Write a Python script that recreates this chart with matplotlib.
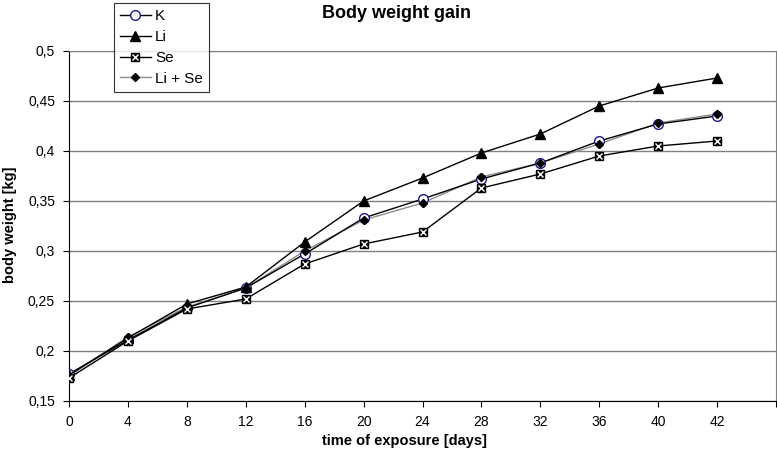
import matplotlib
matplotlib.use("Agg")
import matplotlib.pyplot as plt
from matplotlib.legend_handler import HandlerTuple

plt.rcParams['font.family'] = ['Liberation Sans', 'DejaVu Sans']

days = ["0", "4", "8", "12", "16", "20", "24", "28", "32", "36", "40", "42"]
K = [0.177, 0.211, 0.243, 0.263, 0.297, 0.333, 0.352, 0.372, 0.388, 0.410, 0.427, 0.435]
Li = [0.176, 0.213, 0.247, 0.264, 0.309, 0.350, 0.373, 0.398, 0.417, 0.445, 0.463, 0.473]
Se = [0.173, 0.210, 0.242, 0.252, 0.287, 0.307, 0.319, 0.363, 0.377, 0.395, 0.405, 0.410]
LiSe = [0.175, 0.214, 0.244, 0.263, 0.300, 0.331, 0.348, 0.374, 0.388, 0.407, 0.428, 0.437]
yticks = [0.15, 0.2, 0.25, 0.3, 0.35, 0.4, 0.45, 0.5]
ytick_labels = ["0,15", "0,2", "0,25", "0,3", "0,35", "0,4", "0,45", "0,5"]

fig = plt.figure(figsize=(7.77, 4.54), dpi=100)
ax = fig.add_axes([69/777, 1 - 401/454, (776 - 69)/777, (401 - 51)/454])

x = list(range(len(days)))

ax.set_ylim(0.15, 0.5)
ax.set_xlim(0, len(days))
ax.set_yticks(yticks)
ax.set_yticklabels(ytick_labels)
ax.set_xticks(list(range(len(days) + 1)))
ax.set_xticklabels(days + [""])
ax.yaxis.grid(True, color='#808080', linewidth=1)
ax.set_axisbelow(True)

for s in ['top', 'right']:
    ax.spines[s].set_color('#808080')
for s in ['left', 'bottom']:
    ax.spines[s].set_color('#000000')
ax.tick_params(axis='both', direction='out', length=4, width=0.8, labelsize=10, colors='black')
ax.tick_params(axis='x', pad=6)
ax.tick_params(axis='y', pad=6)

l_lise, = ax.plot(x, LiSe, color='#8c8c8c', linewidth=1, marker='D', markersize=4.5,
                  markerfacecolor='black', markeredgecolor='black', zorder=3)
l_k, = ax.plot(x, K, color='black', linewidth=1, marker='o', markersize=7,
               markerfacecolor='white', markeredgecolor='#1a1a8c', markeredgewidth=1, zorder=3)
ax.plot(x, LiSe, color='none', linestyle='none', marker='D', markersize=4.5,
        markerfacecolor='black', markeredgecolor='black', zorder=4)
l_li, = ax.plot(x, Li, color='black', linewidth=1, marker='^', markersize=7,
                markerfacecolor='black', markeredgecolor='black', zorder=3)
l_se, = ax.plot(x, Se, color='black', linewidth=1, marker='s', markersize=6,
                markerfacecolor='black', markeredgecolor='black', zorder=3)
l_sex, = ax.plot(x, Se, color='none', linestyle='none', marker='x', markersize=4.5,
                 markeredgecolor='white', markeredgewidth=1, zorder=4)

leg = fig.legend([l_k, l_li, (l_se, l_sex), l_lise], ["K", "Li", "Se", "Li + Se"],
                 handler_map={tuple: HandlerTuple(ndivide=1, pad=0)},
                 loc='upper left', bbox_to_anchor=(114/777, 1 - 3/454),
                 frameon=True, fancybox=False, edgecolor='black', fontsize=11,
                 handlelength=2.0, handletextpad=0.3, borderpad=0.4, labelspacing=0.45,
                 borderaxespad=0)
leg.get_frame().set_linewidth(0.8)

fig.text(396/777, 1 - 13/454, "Body weight gain", ha='center', va='center',
         fontsize=13, fontweight='bold')
fig.text(405/777, 1 - 441/454, "time of exposure [days]", ha='center', va='center',
         fontsize=10.5, fontweight='bold')
fig.text(10/777, 1 - 225/454, "body weight [kg]", ha='center', va='center',
         rotation=90, fontsize=10.5, fontweight='bold')

fig.savefig("out.png", dpi=100)
